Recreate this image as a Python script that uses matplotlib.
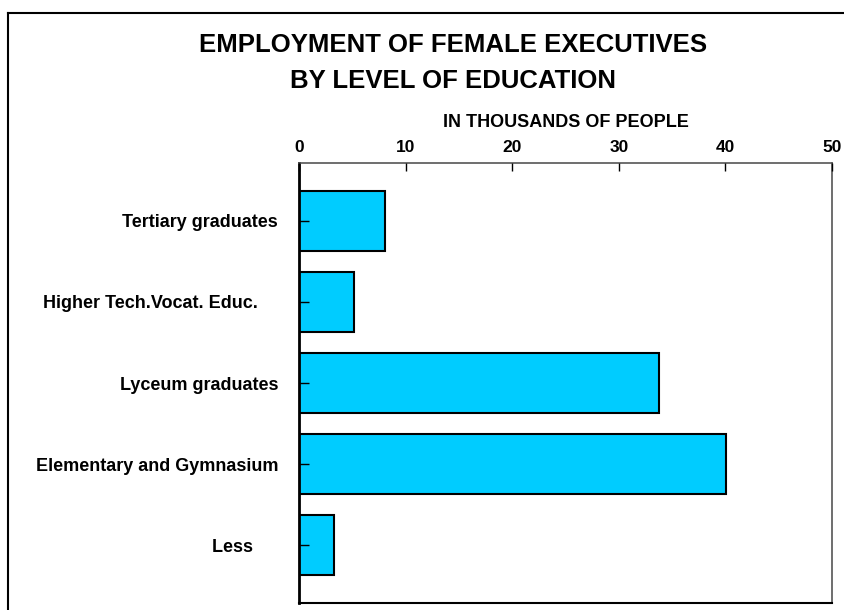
import matplotlib
matplotlib.use('Agg')
import matplotlib.pyplot as plt
from matplotlib.lines import Line2D

# data (thousands of people)
categories = ['Tertiary graduates', 'Higher Tech.Vocat. Educ.    ', 'Lyceum graduates',
              'Elementary and Gymnasium', 'Less     ']
values = [8.1, 5.2, 33.8, 40.1, 3.3]
x_ticks = [0, 10, 20, 30, 40, 50]

plt.rcParams['font.family'] = ['Liberation Sans', 'DejaVu Sans']

fig = plt.figure(figsize=(8.44, 6.10), dpi=100)
ax = fig.add_axes([299 / 844, 1 - 603 / 610, 533 / 844, 440 / 610])

pos = list(range(len(categories)))
ax.barh(pos, values, height=0.75, color='#00CCFF', edgecolor='black', linewidth=1.5, zorder=2)

ax.set_xlim(0, 50)
ax.set_ylim(len(categories) - 1 + 0.715, -0.715)
ax.xaxis.tick_top()
ax.set_xticks(x_ticks)
ax.set_xticklabels([str(t) for t in x_ticks], fontsize=12.5, fontweight='bold')
ax.tick_params(axis='x', direction='in', length=6, width=1, pad=6, colors='black')
ax.set_yticks(pos)
ax.set_yticklabels(categories, fontsize=13, fontweight='bold')
ax.tick_params(axis='y', direction='in', length=7, width=1, pad=15)
for t in ax.yaxis.get_major_ticks():
    t.tick1line.set_zorder(5)
ax.set_axisbelow(False)

for s in ax.spines.values():
    s.set_color('#555555')
    s.set_linewidth(1.2)
ax.spines['left'].set_color('black')
ax.spines['left'].set_linewidth(2)
ax.spines['bottom'].set_color('black')
ax.spines['bottom'].set_linewidth(1.5)

ax.set_xlabel('IN THOUSANDS OF PEOPLE', fontsize=13, fontweight='bold', labelpad=9)
ax.xaxis.set_label_position('top')

fig.text(453 / 844, 1 - 45 / 610, 'EMPLOYMENT OF FEMALE EXECUTIVES', ha='center', va='center',
         fontsize=18.5, fontweight='bold')
fig.text(453 / 844, 1 - 81 / 610, 'BY LEVEL OF EDUCATION', ha='center', va='center',
         fontsize=18.5, fontweight='bold')

# outer frame (top and left edges)
fig.add_artist(Line2D([8 / 844, 1], [1 - 13 / 610, 1 - 13 / 610], color='black', lw=1.5,
                      transform=fig.transFigure))
fig.add_artist(Line2D([8 / 844, 8 / 844], [0, 1 - 13 / 610], color='black', lw=1.5,
                      transform=fig.transFigure))

fig.savefig('out.png', dpi=100)
